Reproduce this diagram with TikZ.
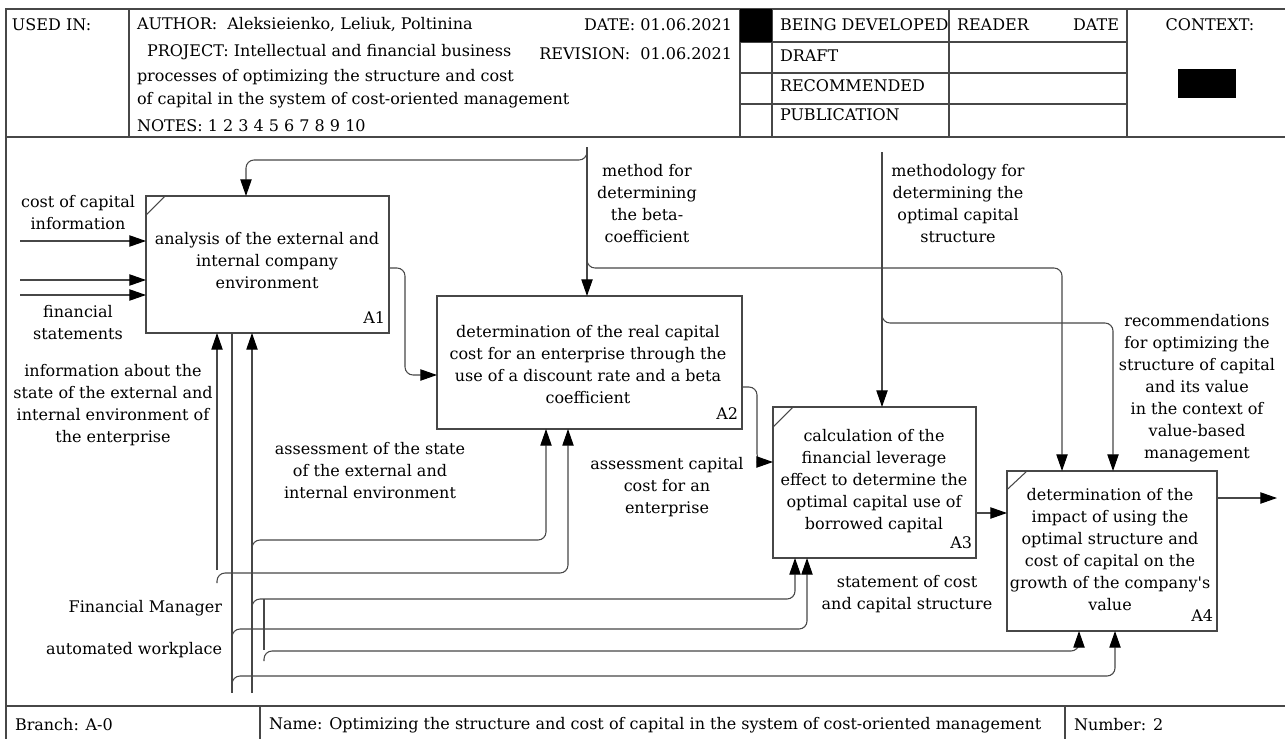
\documentclass[tikz,border=0pt]{standalone}
\usepackage{fontspec}
\setmainfont{DejaVu Serif}
\usetikzlibrary{arrows.meta,fit}
\begin{document}
\begin{tikzpicture}[x=0.75pt,y=-0.75pt,
  every node/.style={inner sep=0pt, outer sep=0pt, font=\fontsize{12}{16.5}\selectfont},
  ln/.style={draw=black!72, line width=0.8pt},
  arr/.style={ln, -{Triangle[length=12.5pt,width=8.5pt,color=black]}},
  rc/.style={rounded corners=6pt},
  proc/.style={ln, fill=white, inner sep=0pt},
  txt/.style={align=center},
  num/.style={anchor=base east, xshift=-3pt, yshift=7.5pt}
]
\useasboundingbox (0,0) rectangle (1285,739);

% ---------- frame ----------
\draw[ln] (1285,9) -- (6,9) -- (6,739);
\draw[ln] (6,137) -- (1285,137);
\draw[ln] (6,706) -- (1285,706);

% ---------- header ----------
\draw[ln] (129,9) -- (129,137);
\draw[ln] (740,9) -- (740,137);
\draw[ln] (772,9) -- (772,137);
\draw[ln] (949,9) -- (949,137);
\draw[ln] (1127,9) -- (1127,137);
\draw[ln] (740,42) -- (1127,42);
\draw[ln] (740,73) -- (1127,73);
\draw[ln] (740,104) -- (1127,104);
\fill[black] (740,9) rectangle (772,42);
\fill[black] (1178,69) rectangle (1236,98);

\node[anchor=west] (usedin) at (12,25) {USED IN:};
\node[anchor=west] (author) at (137,25) {AUTHOR:~~Aleksieienko, Leliuk, Poltinina};
\node[anchor=east] (date) at (732,25) {DATE: 01.06.2021};
\node[anchor=west] (project) at (147,52) {PROJECT: Intellectual and financial business};
\node[anchor=east] (revision) at (732,54) {REVISION:~~01.06.2021};
\node[anchor=west] (proj2) at (137,77) {processes of optimizing the structure and cost};
\node[anchor=west] (proj3) at (137,100) {of capital in the system of cost-oriented management};
\node[anchor=west] (notes) at (137,126) {NOTES: 1 2 3 4 5 6 7 8 9 10};
\node[anchor=west] (beingdev) at (780,25) {BEING DEVELOPED};
\node[anchor=west] (draft) at (780,56) {DRAFT};
\node[anchor=west] (recom) at (780,86) {RECOMMENDED};
\node[anchor=west] (publ) at (780,115) {PUBLICATION};
\node[anchor=west] (reader) at (957,25) {READER};
\node[anchor=east] (rdate) at (1119,25) {DATE};
\node (context) at (1210,25) {CONTEXT:};

% ---------- footer ----------
\draw[ln] (260,706) -- (260,739);
\draw[ln] (1065,706) -- (1065,739);
\node[anchor=west] (branch) at (15,725) {Branch: A-0};
\node[anchor=west] (name) at (269,725) {Name: Optimizing the structure and cost of capital in the system of cost-oriented management};
\node[anchor=west] (number) at (1074,725) {Number: 2};

% ---------- activity boxes ----------
\node[proc, fit={(146,196) (389,333)}] (A1) {};
\node[proc, fit={(437,296) (742,429)}] (A2) {};
\node[proc, fit={(773,407) (976,558)}] (A3) {};
\node[proc, fit={(1007,471) (1217,631)}] (A4) {};
\draw[ln] ([yshift=-14.25pt]A1.north west) -- ([xshift=14.25pt]A1.north west);
\draw[ln] ([yshift=-15pt]A3.north west) -- ([xshift=15pt]A3.north west);
\draw[ln] ([yshift=-14pt]A4.north west) -- ([xshift=15pt]A4.north west);

\node[txt] (t1) at (267,261) {analysis of the external and\\internal company\\environment};
\node[txt] (t2) at (588,364.5) {determination of the real capital\\cost for an enterprise through the\\use of a discount rate and a beta\\coefficient};
\node[txt] (t3) at (874,481) {calculation of the\\financial leverage\\effect to determine the\\optimal capital use of\\borrowed capital};
\node[txt] (t4) at (1110,550) {determination of the\\impact of using the\\optimal structure and\\cost of capital on the\\growth of the company\textquotesingle s\\value};
\node[num] (n1) at (A1.south east) {A1};
\node[num] (n2) at (A2.south east) {A2};
\node[num] (n3) at (A3.south east) {A3};
\node[num] (n4) at (A4.south east) {A4};

% ---------- inputs ----------
\coordinate (i1) at (20,241);
\coordinate (i2) at (20,280);
\coordinate (i3) at (20,295);
\draw[arr] (i1) -- (A1.west |- i1);
\draw[arr] (i2) -- (A1.west |- i2);
\draw[arr] (i3) -- (A1.west |- i3);

% ---------- outputs between boxes ----------
\draw[arr,rc] (A1.east |- 0,268) -- (405,268) -- (405,375) -- (A2.west |- 0,375);
\draw[arr,rc] (A2.east |- 0,387) -- (757,387) -- (757,462) -- (A3.west |- 0,462);
\draw[arr] (A3.east |- 0,513) -- (A4.west |- 0,513);
\coordinate (out) at (1277,498);
\draw[arr] (A4.east |- out) -- (out);

% ---------- controls ----------
\coordinate (c1) at (587,147);
\draw[arr] (c1) -- (A2.north -| c1);
\draw[arr,rc] (587,149) |- (246,160) -- (A1.north -| 246,0);
\draw[arr,rc] (587,256) |- (1062,268) -- (A4.north -| 1062,0);
\coordinate (c2) at (882,152);
\draw[arr] (c2) -- (A3.north -| c2);
\draw[arr,rc] (882,312) |- (1113,323) -- (A4.north -| 1113,0);

% ---------- mechanisms ----------
\draw[arr] (217,570) -- (A1.south -| 217,0);
\draw[ln] (A1.south -| 232,0) -- (232,693);
\draw[arr] (252,693) -- (A1.south -| 252,0);
\draw[arr,rc] (217,583) |- (568,573) -- (A2.south -| 568,0);
\draw[arr,rc] (252,550) |- (546,540) -- (A2.south -| 546,0);
\draw[arr,rc] (252,609) |- (795,599) -- (A3.south -| 795,0);
\draw[arr,rc] (232,639) |- (807,629) -- (A3.south -| 807,0);
\draw[ln] (264,599) -- (264,650);
\draw[arr,rc] (264,661) |- (1079,651) -- (A4.south -| 1079,0);
\draw[arr,rc] (232,686) |- (1115,676) -- (A4.south -| 1115,0);

% ---------- labels ----------
\node[txt] (lcost) at (78,212.5) {cost of capital\\information};
\node[txt] (lfin) at (78,322.5) {financial\\statements};
\node[txt] (linfo) at (113,405.5) {information about the\\state of the external and\\internal environment of\\the enterprise};
\node[txt] (lbeta) at (647,204) {method for\\determining\\the beta-\\coefficient};
\node[txt] (lmeth) at (958,204) {methodology for\\determining the\\optimal capital\\structure};
\node[txt] (lrec) at (1197,388) {recommendations\\for optimizing the\\structure of capital\\and its value\\in the context of\\value-based\\management};
\node[txt] (lassess) at (370,471) {assessment of the state\\of the external and\\internal environment};
\node[txt] (lcap) at (667,487) {assessment capital\\cost for an\\enterprise};
\node[txt] (lstat) at (907,594) {statement of cost\\and capital structure};
\node[anchor=east] (lfm) at (222,608) {Financial Manager};
\node[anchor=east] (law) at (222,650) {automated workplace};
\end{tikzpicture}
\end{document}
